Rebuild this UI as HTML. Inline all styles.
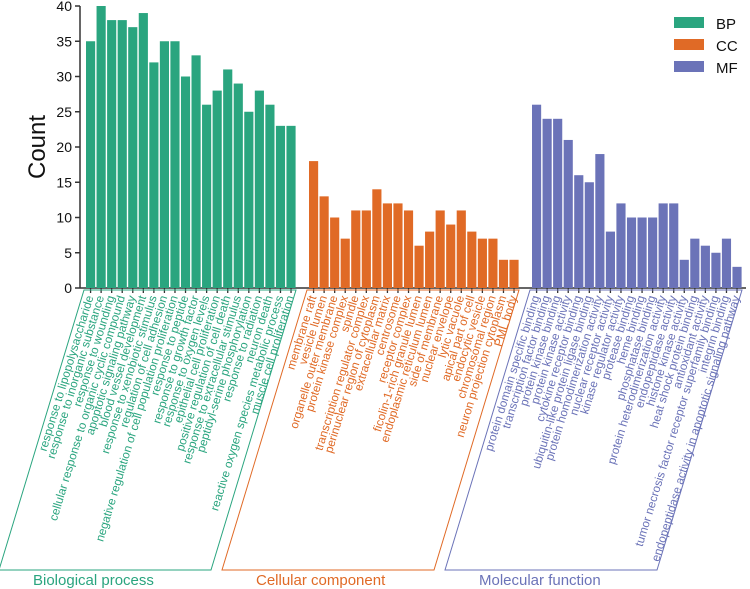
<!DOCTYPE html>
<html><head><meta charset="utf-8"><style>
body{margin:0;background:#fff;}
svg{display:block;font-family:"Liberation Sans",Arial,sans-serif;}
</style></head><body>
<svg id="chart" width="750" height="589"></svg>
<script>
const bpLabels=["response to lipopolysaccharide","response to inorganic substance","response to wounding","cellular response to organic cyclic compound","apoptotic signaling pathway","blood vessel development","response to xenobiotic stimulus","regulation of cell adhesion","negative regulation of cell population proliferation","response to peptide","response to growth factor","response to oxygen levels","epithelial cell proliferation","positive regulation of cell death","response to extracellular stimulus","peptidyl-serine phosphorylation","response to radiation","neuron death","reactive oxygen species metabolic process","muscle cell proliferation"];
const bpValues=[35,40,38,38,37,39,32,35,35,30,33,26,28,31,29,25,28,26,23,23];
const ccLabels=["membrane raft","vesicle lumen","organelle outer membrane","protein kinase complex","spindle","transcription regulator complex","perinuclear region of cytoplasm","extracellular matrix","centrosome","receptor complex","ficolin-1-rich granule lumen","endoplasmic reticulum lumen","side of membrane","nuclear envelope","lytic vacuole","apical part of cell","endocytic vesicle","chromosomal region","neuron projection cytoplasm","PML body"];
const ccValues=[18,13,10,7,11,11,14,12,12,11,6,8,11,9,11,8,7,7,4,4];
const mfLabels=["protein domain specific binding","transcription factor binding","protein kinase binding","protein kinase activity","cytokine receptor binding","ubiquitin-like protein ligase binding","protein homodimerization activity","nuclear receptor activity","kinase regulator activity","protease binding","heme binding","phosphatase binding","protein heterodimerization activity","endopeptidase activity","histone kinase activity","heat shock protein binding","antioxidant activity","tumor necrosis factor receptor superfamily binding","integrin binding","endopeptidase activity in apoptotic signaling pathway"];
const mfValues=[26,24,24,21,16,15,19,8,12,10,10,10,12,12,4,7,6,5,7,3];
const yTicks=[0,5,10,15,20,25,30,35,40];
const groupNames=["BP","CC","MF"];
const groupTitles=["Biological process","Cellular component","Molecular function"];

const colors=["#2aa57f","#e06a26","#6b73b8"];
const svg=document.getElementById('chart');
const NS="http://www.w3.org/2000/svg";
function mk(tag,attrs,parent){const e=document.createElementNS(NS,tag);for(const k in attrs)e.setAttribute(k,attrs[k]);(parent||svg).appendChild(e);return e;}
const y0=288,yTop=6,yMax=40;
const yScale=v=>y0-(v/yMax)*(y0-yTop);
const pitch=10.55,groupStart=[86,309,532];
const xPos=(g,i)=>groupStart[g]+i*pitch;

let ax=mk('line',{x1:80,y1:yTop,x2:80,y2:y0,stroke:'#333','stroke-width':1.5});


yTicks.forEach(t=>{
  const y=yScale(t);
  let tk=mk('line',{x1:75,y1:y,x2:80,y2:y,stroke:'#333','stroke-width':1.5});
  
  
  let tl=mk('text',{x:72,y:y+5,'text-anchor':'end','font-size':14,fill:'#111'});
  tl.textContent=t;
  
  
});
let yt=mk('text',{x:0,y:0,transform:'translate(45,147) rotate(-90)','text-anchor':'middle','font-size':24,fill:'#111'});
yt.textContent='Count';


let xa=mk('line',{x1:80,y1:y0,x2:746,y2:y0,stroke:'#333','stroke-width':1.5});



const groups=[[bpLabels,bpValues],[ccLabels,ccValues],[mfLabels,mfValues]];
groups.forEach(([labels,vals],g)=>{
  vals.forEach((v,i)=>{
    const x=xPos(g,i);
    let b=mk('rect',{x:x,y:yScale(v),width:pitch-1.4,height:y0-yScale(v),fill:colors[g]});
    
    
    const cx=x+(pitch-1.4)/2;
    let tk=mk('line',{x1:cx,y1:y0,x2:cx,y2:y0+5,stroke:'#333','stroke-width':1.3});
    
    
    let tl=mk('text',{transform:`translate(${cx+3},${y0+9}) rotate(-73)`,'text-anchor':'end','font-size':11.8,fill:colors[g]});
    tl.textContent=labels[i];
    
    
  });
  const L=groupStart[g]-2,R=xPos(g,vals.length-1)+pitch-1;
  let br=mk('polygon',{points:`${L},${y0+2} ${R},${y0+2} ${R-85},570 ${L-85},570`,fill:'none',stroke:colors[g],'stroke-width':1});
  
  
  let gt=mk('text',{x:L-85+34,y:585,'font-size':15,fill:colors[g]});
  gt.textContent=groupTitles[g];
  
  
  let lb=mk('rect',{x:674,y:17+g*22,width:30,height:11,fill:colors[g]});
  
  
  let lt=mk('text',{x:716,y:29+g*22,'font-size':15,fill:'#111'});
  lt.textContent=groupNames[g];
  
  
});
</script>
</body></html>
